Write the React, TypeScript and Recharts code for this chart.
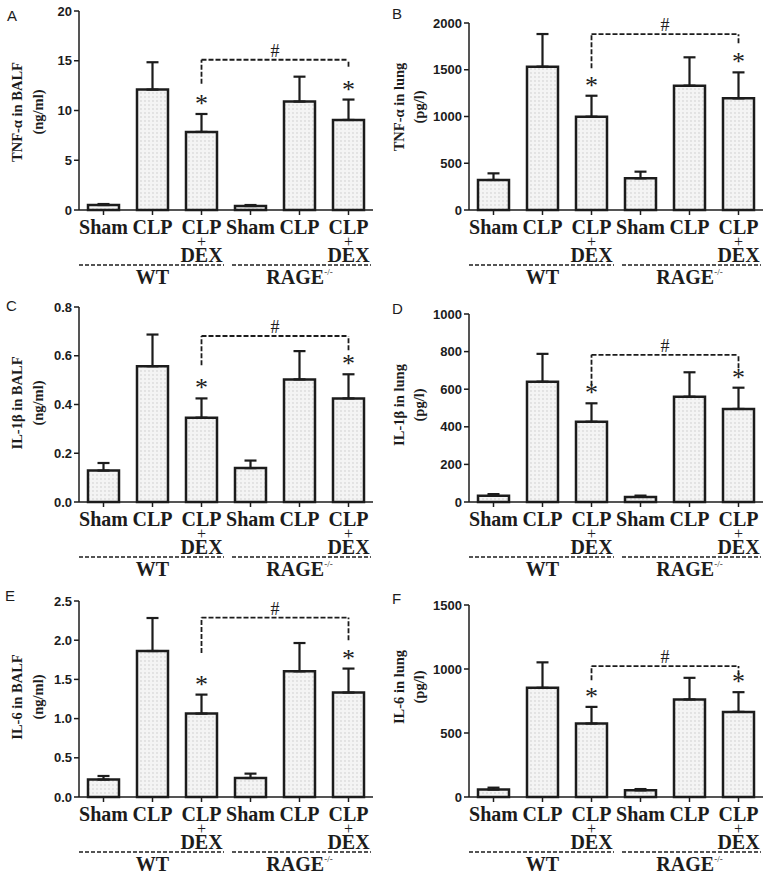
import React from 'react';
import { ComposedChart, Bar, ErrorBar, XAxis, YAxis, ReferenceLine, ReferenceDot, Label } from 'recharts';

// ---------- data ----------
const categoryKeys = ['wtSham', 'wtCLP', 'wtDEX', 'rgSham', 'rgCLP', 'rgDEX'];
const categoryTop = ['Sham', 'CLP', 'CLP', 'Sham', 'CLP', 'CLP'];
const categoryExtra = [false, false, true, false, false, true]; // "+ DEX"
const groupLabels = ['WT', 'RAGE'];
const starFlags = [false, false, true, false, false, true];

const tnfBalfMean = [0.5, 12.1, 7.85, 0.4, 10.9, 9.05];
const tnfBalfSd = [0.1, 2.75, 1.8, 0.1, 2.5, 2.05];
const tnfBalfTicks = [0, 5, 10, 15, 20];
const tnfBalfBracket = [15.1, 12.7, 14.4];

const tnfLungMean = [321, 1533, 998, 339, 1330, 1194];
const tnfLungSd = [71, 349, 224, 71, 303, 278];
const tnfLungTicks = [0, 500, 1000, 1500, 2000];
const tnfLungBracket = [1880, 1515, 1783];

const il1BalfMean = [0.129, 0.557, 0.346, 0.139, 0.503, 0.425];
const il1BalfSd = [0.031, 0.13, 0.079, 0.031, 0.116, 0.099];
const il1BalfTicks = [0, 0.2, 0.4, 0.6, 0.8];
const il1BalfBracket = [0.681, 0.561, 0.623];

const il1LungMean = [33, 640, 427, 27, 560, 495];
const il1LungSd = [9, 148, 98, 7, 130, 113];
const il1LungTicks = [0, 200, 400, 600, 800, 1000];
const il1LungBracket = [783, 619, 712];

const il6BalfMean = [0.222, 1.862, 1.064, 0.242, 1.603, 1.332];
const il6BalfSd = [0.046, 0.421, 0.242, 0.056, 0.361, 0.306];
const il6BalfTicks = [0, 0.5, 1.0, 1.5, 2.0, 2.5];
const il6BalfBracket = [2.288, 1.837, 1.999];

const il6LungMean = [58, 853, 574, 52, 762, 665];
const il6LungSd = [15, 199, 130, 10, 169, 154];
const il6LungTicks = [0, 500, 1000, 1500];
const il6LungBracket = [1023, 913, 952];

// ---------- styles ----------
const SERIF = '"Liberation Serif", "Times New Roman", serif';
const SANS = '"Liberation Sans", Arial, sans-serif';
const INK = '#1c1c1c';
const PANEL_W = 385;
const YAXIS_W = 79;
const RIGHT_M = 12;
const BAND = (PANEL_W - YAXIS_W - RIGHT_M) / categoryKeys.length;

const XTick = (props: any) => {
  const { x, y, payload } = props;
  const i = categoryKeys.indexOf(payload.value);
  const ay = y - 7;
  const out: any[] = [];
  if (categoryExtra[i]) {
    out.push(
      <text key="t" x={x} y={ay + 24} textAnchor="middle" fontFamily={SERIF} fontWeight={700} fontSize={20} fill={INK}>
        <tspan x={x}>{categoryTop[i]}</tspan>
        <tspan x={x} dy={13} fontWeight={400} fontSize={16}>+</tspan>
        <tspan x={x} dy={15}>DEX</tspan>
      </text>
    );
  } else {
    out.push(
      <text key="t" x={x} y={ay + 24} textAnchor="middle" fontFamily={SERIF} fontWeight={700} fontSize={20} fill={INK}>
        {categoryTop[i]}
      </text>
    );
  }
  if (i === 1 || i === 4) {
    const g = i === 1 ? 0 : 1;
    const x1 = x - 1.5 * BAND + (g === 0 ? 0 : 6);
    const x2 = x + 1.5 * BAND - 2;
    out.push(
      <line key="l" x1={x1} x2={x2} y1={ay + 55} y2={ay + 55} stroke={INK} strokeWidth={1.6} strokeDasharray="4 2" />
    );
    out.push(
      <text key="g" x={x} y={ay + 74} textAnchor="middle" fontFamily={SERIF} fontWeight={700} fontSize={20} fill={INK}>
        {groupLabels[g]}
        {g === 1 ? (
          <tspan dy={-9} fontWeight={400} fontSize={9}>-/-</tspan>
        ) : null}
      </text>
    );
  }
  return <g>{out}</g>;
};

type PanelProps = {
  id: string;
  letter: string;
  mean: number[];
  sd: number[];
  ticks: number[];
  decimals: number;
  bracket: number[];
  label1: string;
  label2: string;
  left: number;
  top: number;
  height: number;
  plotTop: number;
  plotBottom: number;
  lx1: number;
  lx2: number;
  lcy: number;
  letterX: number;
  letterY: number;
};

const Panel = (p: PanelProps) => {
  const data = categoryKeys.map((k, i) => ({ key: k, mean: p.mean[i], err: [0, p.sd[i]] }));
  const maxV = p.ticks[p.ticks.length - 1];
  const [by, bl, br] = p.bracket;
  const yLabel = () => (
    <g>
      <text
        x={p.lx1}
        y={p.lcy}
        transform={`rotate(-90 ${p.lx1} ${p.lcy})`}
        textAnchor="middle"
        dominantBaseline="central"
        fontFamily={SERIF}
        fontWeight={700}
        fontSize={14.5}
        fill={INK}
      >
        {p.label1}
      </text>
      <text
        x={p.lx2}
        y={p.lcy}
        transform={`rotate(-90 ${p.lx2} ${p.lcy})`}
        textAnchor="middle"
        dominantBaseline="central"
        fontFamily={SERIF}
        fontWeight={700}
        fontSize={14.5}
        fill={INK}
      >
        {p.label2}
      </text>
    </g>
  );
  return (
    <div style={{ position: 'absolute', left: p.left, top: p.top, width: PANEL_W, height: p.height }}>
      <div
        style={{
          position: 'absolute',
          left: p.letterX,
          top: p.letterY,
          fontFamily: SANS,
          fontSize: 15,
          lineHeight: '15px',
          color: INK,
        }}
      >
        {p.letter}
      </div>
      <ComposedChart
        width={PANEL_W}
        height={p.height}
        data={data}
        margin={{ top: p.plotTop, right: RIGHT_M, bottom: 0, left: 0 }}
        style={{ position: 'absolute', left: 0, top: 0 }}
      >
        <defs>
          <pattern id={`dots-${p.id}`} width="4" height="4" patternUnits="userSpaceOnUse">
            <rect width="4" height="4" fill="#f4f4f4" />
            <circle cx="1" cy="1" r="0.65" fill="#c4c4c4" />
          </pattern>
        </defs>
        <XAxis
          dataKey="key"
          height={p.height - p.plotBottom}
          interval={0}
          tickSize={5}
          tickLine={{ stroke: INK, strokeWidth: 1.5 }}
          axisLine={{ stroke: INK, strokeWidth: 1.5 }}
          tick={<XTick />}
        />
        <YAxis
          type="number"
          width={YAXIS_W}
          domain={[0, maxV]}
          ticks={p.ticks}
          interval={0}
          tickFormatter={(v: number) => v.toFixed(p.decimals)}
          tickSize={5}
          tickLine={{ stroke: INK, strokeWidth: 1.5 }}
          axisLine={{ stroke: INK, strokeWidth: 1.5 }}
          tick={{ fontFamily: SANS, fontWeight: 700, fontSize: 13, fill: INK }}
          label={<Label content={yLabel} />}
        />
        <Bar
          dataKey="mean"
          barSize={31}
          fill={`url(#dots-${p.id})`}
          stroke={INK}
          strokeWidth={2.5}
          isAnimationActive={false}
        >
          <ErrorBar dataKey="err" width={6} strokeWidth={2.2} stroke={INK} direction="y" />
        </Bar>
        <ReferenceLine
          segment={[{ x: 'wtDEX', y: by }, { x: 'rgDEX', y: by }]}
          stroke={INK}
          strokeWidth={1.8}
          strokeDasharray="5 2"
          ifOverflow="visible"
          label={{ value: '#', position: 'top', offset: 3, fontFamily: SERIF, fontSize: 18, fill: INK }}
        />
        <ReferenceLine
          segment={[{ x: 'wtDEX', y: bl }, { x: 'wtDEX', y: by }]}
          stroke={INK}
          strokeWidth={1.8}
          strokeDasharray="5 2"
          ifOverflow="visible"
        />
        <ReferenceLine
          segment={[{ x: 'rgDEX', y: br }, { x: 'rgDEX', y: by }]}
          stroke={INK}
          strokeWidth={1.8}
          strokeDasharray="5 2"
          ifOverflow="visible"
        />
        {categoryKeys.map((k, i) =>
          starFlags[i] ? (
            <ReferenceDot
              key={k}
              x={k}
              y={p.mean[i] + p.sd[i]}
              r={0}
              ifOverflow="visible"
              shape={(s: any) => (
                <text x={s.cx} y={s.cy - 2} textAnchor="middle" fontFamily={SERIF} fontSize={26} fill={INK}>
                  *
                </text>
              )}
            />
          ) : null
        )}
      </ComposedChart>
    </div>
  );
};

export default function App() {
  return (
    <div style={{ position: 'absolute', left: 0, top: 0, width: 773, height: 877, background: '#fff', overflow: 'hidden' }}>
      <Panel id="a" letter="A" mean={tnfBalfMean} sd={tnfBalfSd} ticks={tnfBalfTicks} decimals={0} bracket={tnfBalfBracket}
        label1="TNF-α in BALF" label2="(ng/ml)" left={0} top={0} height={290} plotTop={11} plotBottom={210}
        lx1={17} lx2={38} lcy={112} letterX={7} letterY={8} />
      <Panel id="b" letter="B" mean={tnfLungMean} sd={tnfLungSd} ticks={tnfLungTicks} decimals={0} bracket={tnfLungBracket}
        label1="TNF-α in lung" label2="(pg/l)" left={390} top={0} height={290} plotTop={23} plotBottom={210}
        lx1={9} lx2={29} lcy={107} letterX={2} letterY={6} />
      <Panel id="c" letter="C" mean={il1BalfMean} sd={il1BalfSd} ticks={il1BalfTicks} decimals={1} bracket={il1BalfBracket}
        label1="IL-1β  in BALF" label2="(ng/ml)" left={0} top={290} height={290} plotTop={17} plotBottom={212}
        lx1={17} lx2={38} lcy={113} letterX={6} letterY={8} />
      <Panel id="d" letter="D" mean={il1LungMean} sd={il1LungSd} ticks={il1LungTicks} decimals={0} bracket={il1LungBracket}
        label1="IL-1β  in lung" label2="(pg/l)" left={390} top={290} height={290} plotTop={24} plotBottom={212}
        lx1={9} lx2={29} lcy={115} letterX={2} letterY={11} />
      <Panel id="e" letter="E" mean={il6BalfMean} sd={il6BalfSd} ticks={il6BalfTicks} decimals={1} bracket={il6BalfBracket}
        label1="IL-6 in BALF" label2="(ng/ml)" left={0} top={580} height={297} plotTop={21} plotBottom={217}
        lx1={17} lx2={38} lcy={117} letterX={5} letterY={8} />
      <Panel id="f" letter="F" mean={il6LungMean} sd={il6LungSd} ticks={il6LungTicks} decimals={0} bracket={il6LungBracket}
        label1="IL-6 in lung" label2="(pg/l)" left={390} top={580} height={297} plotTop={25} plotBottom={217}
        lx1={9} lx2={29} lcy={107} letterX={2} letterY={11} />
    </div>
  );
}
